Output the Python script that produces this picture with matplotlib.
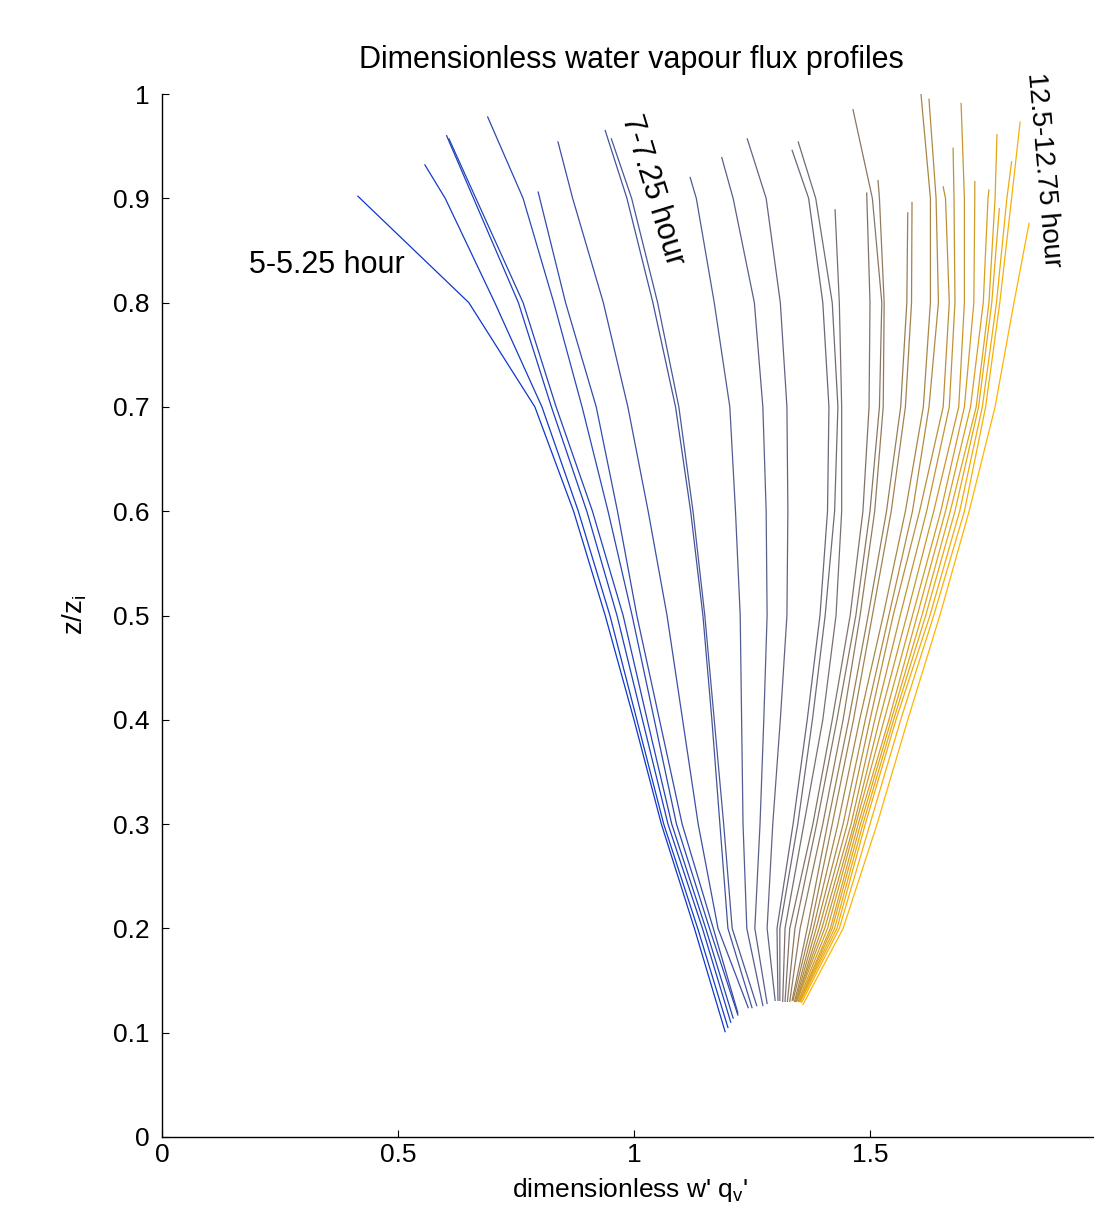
#!/usr/bin/env python
"""
Dimensionless water vapour flux profiles, one curve per quarter hour (5 - 12.75 h).
"""

import numpy as np
import matplotlib
matplotlib.use('Agg')
import matplotlib.pyplot as plt

plt.rcParams['font.family'] = ['Liberation Sans', 'DejaVu Sans']

# time labels of the profiles (hours)
hours = [5 + 0.25 * i for i in range(32)]

z_levels = [0.2, 0.3, 0.4, 0.5, 0.6, 0.7, 0.8, 0.9]

# lowest point of every profile
x_bottom = [1.193, 1.199, 1.205, 1.21, 1.22, 1.22, 1.242, 1.25, 1.26, 1.273, 1.282,
            1.299, 1.305, 1.309, 1.315, 1.32, 1.325, 1.33, 1.335, 1.337, 1.34, 1.342,
            1.344, 1.345, 1.346, 1.348, 1.35, 1.351, 1.352, 1.353, 1.355, 1.358]
z_bottom = [0.101, 0.105, 0.11, 0.114, 0.117, 0.119, 0.124, 0.124, 0.126, 0.126, 0.128,
            0.131, 0.131, 0.131, 0.13, 0.13, 0.13, 0.13, 0.131, 0.131, 0.13, 0.13,
            0.13, 0.131, 0.131, 0.13, 0.13, 0.13, 0.13, 0.13, 0.129, 0.127]

# highest point of every profile
x_top = [0.415, 0.557, 0.603, 0.608, 0.69, 0.797, 0.839, 0.939, 0.952, 1.119, 1.186,
         1.240, 1.335, 1.348, 1.426, 1.493, 1.464, 1.517, 1.58, 1.589, 1.608, 1.625,
         1.655, 1.676, 1.693, 1.722, 1.752, 1.769, 1.774, 1.80, 1.818, 1.837]
z_top = [0.902, 0.932, 0.960, 0.957, 0.978, 0.906, 0.954, 0.965, 0.957, 0.92, 0.939,
         0.957, 0.946, 0.954, 0.889, 0.905, 0.985, 0.917, 0.886, 0.896, 1.0, 0.995,
         0.911, 0.948, 0.991, 0.916, 0.908, 0.961, 0.89, 0.935, 0.973, 0.876]

# x of every profile at z_levels (nan = above the top of that profile)
nan = float('nan')
x_levels = [
    [1.128, 1.058, 1.000, 0.939, 0.872, 0.790, 0.650, nan],
    [1.135, 1.063, 1.006, 0.949, 0.882, 0.805, 0.705, 0.600],
    [1.145, 1.072, 1.018, 0.964, 0.900, 0.825, 0.755, 0.660],
    [1.152, 1.080, 1.028, 0.977, 0.912, 0.835, 0.765, 0.665],
    [1.160, 1.090, 1.043, 0.996, 0.945, 0.890, 0.830, 0.765],
    [1.168, 1.102, 1.054, 1.006, 0.965, 0.920, 0.855, nan],
    [1.178, 1.136, 1.103, 1.070, 1.030, 0.987, 0.935, 0.870],
    [1.199, 1.182, 1.165, 1.146, 1.120, 1.088, 1.040, 0.985],
    [1.208, 1.190, 1.170, 1.150, 1.125, 1.095, 1.050, 0.995],
    [1.239, 1.231, 1.228, 1.225, 1.215, 1.203, 1.170, 1.132],
    [1.256, 1.267, 1.275, 1.282, 1.280, 1.273, 1.255, 1.210],
    [1.282, 1.294, 1.310, 1.324, 1.326, 1.324, 1.310, 1.280],
    [1.303, 1.337, 1.367, 1.394, 1.410, 1.413, 1.400, 1.370],
    [1.309, 1.347, 1.378, 1.405, 1.425, 1.432, 1.420, 1.385],
    [1.320, 1.360, 1.400, 1.428, 1.440, 1.440, 1.435, nan],
    [1.330, 1.379, 1.420, 1.458, 1.485, 1.498, 1.500, nan],
    [1.341, 1.387, 1.430, 1.470, 1.500, 1.520, 1.525, 1.505],
    [1.352, 1.400, 1.443, 1.479, 1.510, 1.528, 1.530, 1.520],
    [1.367, 1.410, 1.455, 1.496, 1.535, 1.565, 1.578, nan],
    [1.374, 1.420, 1.465, 1.505, 1.545, 1.575, 1.588, nan],
    [1.380, 1.432, 1.478, 1.528, 1.575, 1.613, 1.628, 1.628],
    [1.386, 1.443, 1.490, 1.540, 1.590, 1.625, 1.645, 1.640],
    [1.392, 1.452, 1.500, 1.549, 1.605, 1.655, 1.668, 1.660],
    [1.398, 1.460, 1.510, 1.564, 1.620, 1.668, 1.680, 1.678],
    [1.404, 1.466, 1.520, 1.578, 1.635, 1.688, 1.700, 1.700],
    [1.410, 1.470, 1.530, 1.590, 1.650, 1.700, 1.720, 1.722],
    [1.416, 1.475, 1.540, 1.600, 1.660, 1.713, 1.740, 1.750],
    [1.420, 1.480, 1.545, 1.610, 1.670, 1.725, 1.752, 1.765],
    [1.425, 1.485, 1.550, 1.618, 1.680, 1.730, 1.758, nan],
    [1.430, 1.490, 1.555, 1.627, 1.690, 1.738, 1.768, 1.790],
    [1.435, 1.500, 1.565, 1.635, 1.700, 1.745, 1.775, 1.800],
    [1.443, 1.515, 1.580, 1.648, 1.710, 1.765, 1.805, nan],
]

x_ticks = [0, 0.5, 1, 1.5]
x_tick_labels = ['0', '0.5', '1', '1.5']
y_ticks = [0, 0.1, 0.2, 0.3, 0.4, 0.5, 0.6, 0.7, 0.8, 0.9, 1]
y_tick_labels = ['0', '0.1', '0.2', '0.3', '0.4', '0.5', '0.6', '0.7', '0.8', '0.9', '1']


def main():
    W, H = 1094, 1206
    fig = plt.figure(figsize=(W / 100.0, H / 100.0), dpi=100)
    ax = fig.add_axes([162.0 / W, 69.0 / H, 932.0 / W, 1043.0 / H])

    # colour runs from blue (first profile) to orange (last profile)
    c0 = np.array([0.05, 0.22, 0.80])
    c1 = np.array([1.00, 0.70, 0.00])
    n = len(hours)
    for i in range(n):
        xs = [x_bottom[i]]
        zs = [z_bottom[i]]
        for z, x in zip(z_levels, x_levels[i]):
            if np.isnan(x) or z >= z_top[i]:
                continue
            xs.append(x)
            zs.append(z)
        xs.append(x_top[i])
        zs.append(z_top[i])
        t = i / (n - 1.0)
        ax.plot(xs, zs, '-', color=tuple(c0 * (1 - t) + c1 * t), lw=0.9)

    ax.set_xlim(0, 932.0 / 472.0)
    ax.set_ylim(0, 1)
    ax.set_xticks(x_ticks)
    ax.set_xticklabels(x_tick_labels)
    ax.set_yticks(y_ticks)
    ax.set_yticklabels(y_tick_labels)
    ax.tick_params(direction='in', length=5, width=0.8, labelsize=19)
    ax.tick_params(axis='x', pad=4)
    ax.tick_params(axis='y', pad=9)
    ax.spines['top'].set_visible(False)
    ax.spines['right'].set_visible(False)
    for s in ['left', 'bottom']:
        ax.spines[s].set_linewidth(1.0)

    fig.text(631.0 / W, 1 - 60.0 / H, 'Dimensionless water vapour flux profiles',
             ha='center', va='center', fontsize=22)
    fig.text(630.0 / W, 2.0 / H, r"dimensionless w' q$_\mathregular{v}$'",
             ha='center', va='bottom', fontsize=19)
    fig.text(75.0 / W, 1 - 615.0 / H, r'z/z$_\mathregular{i}$',
             ha='center', va='center', rotation=90, fontsize=20)

    # time annotations
    ax.text(0.35, 0.836, '5-5.25 hour', ha='center', va='center', fontsize=22)
    ax.text(1.040, 0.908, '7-7.25 hour', ha='center', va='center', fontsize=22,
            rotation=-73)
    ax.text(1.867, 0.927, '12.5-12.75 hour', ha='center', va='center', fontsize=20,
            rotation=-85, clip_on=False)

    fig.savefig('out.png', dpi=100)


if __name__ == "__main__":
    main()
